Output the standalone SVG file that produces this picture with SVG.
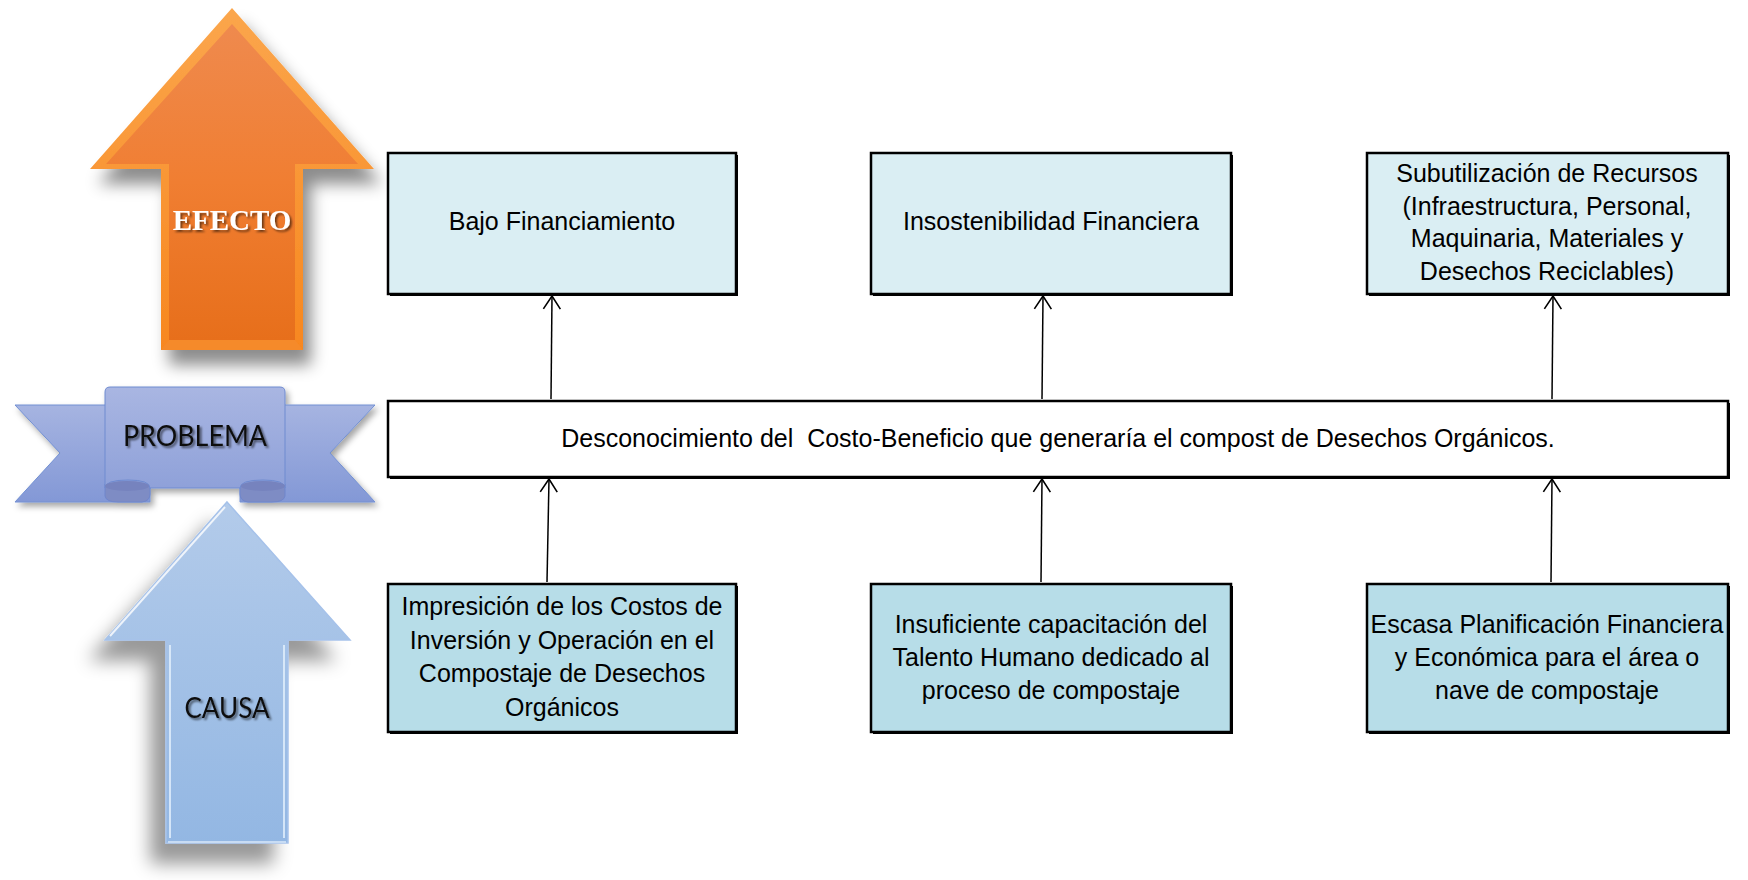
<svg xmlns="http://www.w3.org/2000/svg" width="1748" height="880" viewBox="0 0 1748 880">
<defs>
<linearGradient id="gOrEdge" x1="0" y1="0" x2="0" y2="1"><stop offset="0" stop-color="#FBA64C"/><stop offset="1" stop-color="#F7871F"/></linearGradient>
<linearGradient id="gOrFace" x1="0" y1="0" x2="0" y2="1"><stop offset="0" stop-color="#EF8A4E"/><stop offset="0.5" stop-color="#F07E32"/><stop offset="1" stop-color="#E76F1B"/></linearGradient>
<linearGradient id="gBlue" x1="0" y1="0" x2="0" y2="1"><stop offset="0" stop-color="#B3CBEA"/><stop offset="1" stop-color="#93B7E3"/></linearGradient>
<linearGradient id="gRib" x1="0" y1="0" x2="0" y2="1"><stop offset="0" stop-color="#A6B4E1"/><stop offset="1" stop-color="#8398D6"/></linearGradient>
<linearGradient id="gRibC" x1="0" y1="0" x2="0" y2="1"><stop offset="0" stop-color="#A9B6E2"/><stop offset="1" stop-color="#8FA1D9"/></linearGradient>
<filter id="shOr" x="-30%" y="-30%" width="160%" height="160%"><feDropShadow dx="8" dy="15" stdDeviation="8" flood-color="#000" flood-opacity="0.45"/></filter>
<filter id="shBl" x="-30%" y="-30%" width="160%" height="160%"><feDropShadow dx="-15" dy="20" stdDeviation="9" flood-color="#000" flood-opacity="0.4"/></filter>
<filter id="shRib" x="-20%" y="-30%" width="140%" height="160%"><feDropShadow dx="3" dy="4" stdDeviation="3" flood-color="#000" flood-opacity="0.35"/></filter>
<filter id="shTxt" x="-10%" y="-30%" width="120%" height="160%"><feDropShadow dx="2" dy="2" stdDeviation="1.2" flood-color="#000" flood-opacity="0.55"/></filter>
<marker id="arr" markerUnits="userSpaceOnUse" markerWidth="30" markerHeight="30" viewBox="-15 -15 30 30" refX="0" refY="0" orient="auto">
<path d="M-13,-8.5 L0,0 L-13,8.5" fill="none" stroke="#000" stroke-width="1.6"/>
</marker>
</defs>
<style>
.eff{fill:#DAEEF3;stroke:#000;stroke-width:2.5}
.cau{fill:#B7DDE8;stroke:#000;stroke-width:2.5}
.prob{fill:#FFFFFF;stroke:#000;stroke-width:2.5}
.bsh{fill:#000}
.t{font-family:"Liberation Sans",Arial,sans-serif;font-size:25px;fill:#000;text-anchor:middle}
.lab{font-family:Lato,"Open Sans",sans-serif;font-size:29px;fill:#111;text-anchor:middle}
.conn line{stroke:#000;stroke-width:1.5;marker-end:url(#arr)}
</style>
<rect width="1748" height="880" fill="#FFFFFF"/>

<g id="efecto-arrow">
<g filter="url(#shOr)">
<polygon points="232,8 374,169 303,169 303,350 161,350 161,169 90,169" fill="url(#gOrEdge)"/>
</g>
<polygon points="232,24 358,164 295,164 295,340 169,340 169,164 106,164" fill="url(#gOrFace)"/>
<polygon points="161,350 303,350 295,340 169,340" fill="#F58A2A"/>
<text x="232" y="230" text-anchor="middle" font-family="Liberation Serif,'Times New Roman',serif" font-weight="bold" font-size="29" fill="#FFFFFF" filter="url(#shTxt)">EFECTO</text>
</g>

<g id="problema-ribbon">
<g filter="url(#shRib)">
<polygon points="15,405 150,405 150,502 15,502 60,453" fill="url(#gRib)" stroke="#7290D2" stroke-width="1"/>
<polygon points="375,405 240,405 240,502 375,502 330,453" fill="url(#gRib)" stroke="#7290D2" stroke-width="1"/>
<path d="M105,484 L105,496 Q106,502 118,502 L142,502 Q150,501 150,494 L150,486 Z" fill="#7E8CC4" stroke="#6F86CC" stroke-width="1"/>
<path d="M285,484 L285,496 Q284,502 272,502 L248,502 Q240,501 240,494 L240,486 Z" fill="#7E8CC4" stroke="#6F86CC" stroke-width="1"/>
<path d="M110,387 L280,387 Q285,387 285,392 L285,488 Q285,480 263,480 Q240,480 240,488 L150,488 Q150,480 128,480 Q105,480 105,488 L105,392 Q105,387 110,387 Z" fill="url(#gRibC)" stroke="#6F8BD0" stroke-width="1"/>
<ellipse cx="127" cy="486" rx="22" ry="5" fill="#7683BE"/>
<ellipse cx="263" cy="486" rx="22" ry="5" fill="#7683BE"/>
</g>
<text class="lab" x="195" y="446" textLength="144" lengthAdjust="spacingAndGlyphs" filter="url(#shTxt)">PROBLEMA</text>
</g>

<g id="causa-arrow">
<g filter="url(#shBl)">
<polygon points="227,502 350,640 288,640 288,843 166,843 166,640 105,640" fill="url(#gBlue)" stroke="#A6C2EA" stroke-width="1.5"/>
</g>
<path d="M110,636 L225,507" stroke="#FFFFFF" stroke-width="2" opacity="0.8" fill="none"/>
<path d="M170,645 L170,838 M284,645 L284,838" stroke="#E4F0FC" stroke-width="2" opacity="0.8" fill="none"/>
<path d="M168,842 L286,842" stroke="#C8DCF4" stroke-width="2" fill="none"/>
<text class="lab" x="227" y="718" textLength="85" lengthAdjust="spacingAndGlyphs" filter="url(#shTxt)">CAUSA</text>
</g>

<g id="efecto1">
<rect class="bsh" x="390" y="155" width="348" height="141"/>
<rect class="eff" x="388" y="153" width="348" height="141"/>
<text class="t" x="562" y="230">Bajo Financiamiento</text>
</g>
<g id="efecto2">
<rect class="bsh" x="873" y="155" width="360" height="141"/>
<rect class="eff" x="871" y="153" width="360" height="141"/>
<text class="t" x="1051" y="230">Insostenibilidad Financiera</text>
</g>
<g id="efecto3">
<rect class="bsh" x="1369" y="155" width="361" height="141"/>
<rect class="eff" x="1367" y="153" width="361" height="141"/>
<text class="t" x="1547" y="182">Subutilización de Recursos</text>
<text class="t" x="1547" y="214.5">(Infraestructura, Personal,</text>
<text class="t" x="1547" y="247">Maquinaria, Materiales y</text>
<text class="t" x="1547" y="280">Desechos Reciclables)</text>
</g>

<g id="problema">
<rect class="bsh" x="390" y="403" width="1340" height="76"/>
<rect class="prob" x="388" y="401" width="1340" height="76"/>
<text class="t" x="1058" y="447" style="white-space:pre">Desconocimiento del  Costo-Beneficio que generaría el compost de Desechos Orgánicos.</text>
</g>

<g id="causa1">
<rect class="bsh" x="390" y="586" width="348" height="148"/>
<rect class="cau" x="388" y="584" width="348" height="148"/>
<text class="t" x="562" y="615">Impresición de los Costos de</text>
<text class="t" x="562" y="648.5">Inversión y Operación en el</text>
<text class="t" x="562" y="682">Compostaje de Desechos</text>
<text class="t" x="562" y="715.5">Orgánicos</text>
</g>
<g id="causa2">
<rect class="bsh" x="873" y="586" width="360" height="148"/>
<rect class="cau" x="871" y="584" width="360" height="148"/>
<text class="t" x="1051" y="633">Insuficiente capacitación del</text>
<text class="t" x="1051" y="666">Talento Humano dedicado al</text>
<text class="t" x="1051" y="699">proceso de compostaje</text>
</g>
<g id="causa3">
<rect class="bsh" x="1369" y="586" width="361" height="148"/>
<rect class="cau" x="1367" y="584" width="361" height="148"/>
<text class="t" x="1547" y="633">Escasa Planificación Financiera</text>
<text class="t" x="1547" y="666">y Económica para el área o</text>
<text class="t" x="1547" y="699">nave de compostaje</text>
</g>

<g id="connectors" class="conn">
<line x1="551" y1="399" x2="552" y2="296"/>
<line x1="1042" y1="399" x2="1043" y2="296"/>
<line x1="1552" y1="399" x2="1553" y2="296"/>
<line x1="547" y1="582" x2="549" y2="479"/>
<line x1="1041" y1="582" x2="1042" y2="479"/>
<line x1="1551" y1="582" x2="1552" y2="479"/>
</g>
</svg>
